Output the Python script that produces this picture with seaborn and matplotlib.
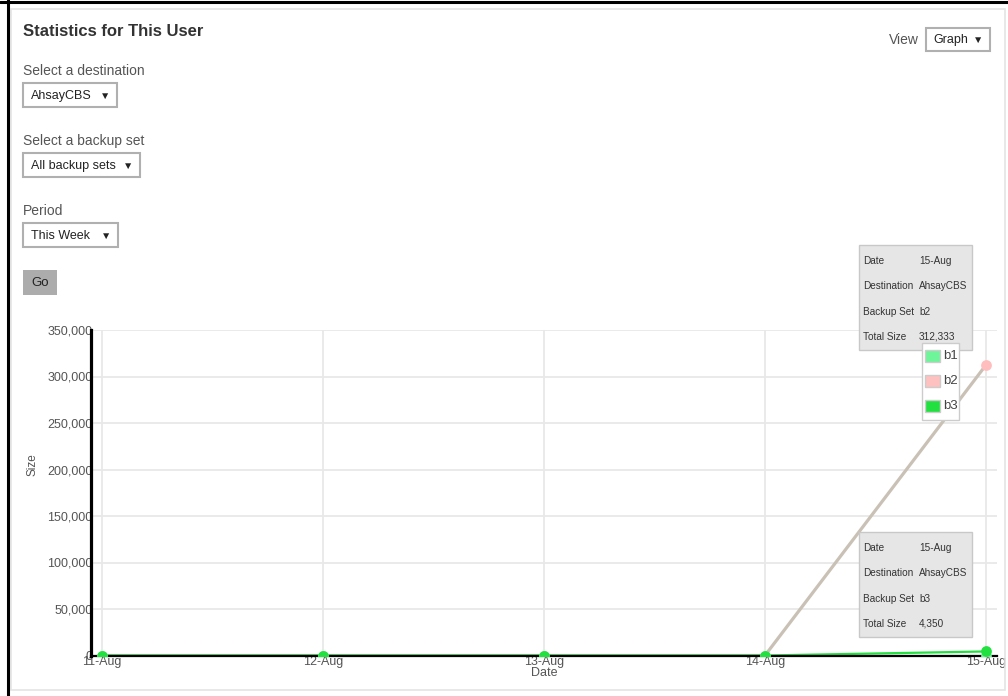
import matplotlib
matplotlib.use("Agg")
import matplotlib.pyplot as plt
from matplotlib.patches import Rectangle
import seaborn as sns
import pandas as pd

# ---------------- data ----------------
dates = ["11-Aug", "12-Aug", "13-Aug", "14-Aug", "15-Aug"]
b1 = [0, 0, 0, 0, 0]
b2 = [0, 0, 0, 0, 312333]
b3 = [0, 0, 0, 0, 4350]
set_names = ["b1", "b2", "b3"]
y_ticks = [0, 50000, 100000, 150000, 200000, 250000, 300000, 350000]
destination = "AhsayCBS"

# styles
swatch_colors = {"b1": "#6ef59a", "b2": "#ffc0c0", "b3": "#22e040"}
line_colors = {"b1": "#6ef59a", "b2": "#c9c1b6", "b3": "#22e040"}
marker_colors = {"b1": "#6ef59a", "b2": "#ffbdbd", "b3": "#22e040"}

sns.set_theme(style="white")
plt.rcParams["font.family"] = ["Liberation Sans", "DejaVu Sans"]

W, H = 1008, 696
fig = plt.figure(figsize=(W / 100, H / 100), dpi=100)
fig.patch.set_facecolor("white")


def fx(x):
    return x / W


def fy(y):
    return 1 - y / H


def rect(x0, y0, x1, y1, fc="none", ec="none", lw=1.0, z=5):
    r = Rectangle((fx(x0), fy(y1)), fx(x1) - fx(x0), fy(y0) - fy(y1),
                  transform=fig.transFigure, facecolor=fc, edgecolor=ec,
                  linewidth=lw, zorder=z)
    fig.add_artist(r)
    return r


def text(x, y, s, size=9, color="#444444", ha="left", va="center", weight="normal", z=6, **kw):
    fig.text(fx(x), fy(y), s, fontsize=size, color=color, ha=ha, va=va,
             fontweight=weight, zorder=z, **kw)


# ---------------- page frame ----------------
rect(11, 9, 1005, 690, fc="none", ec="#e4e4e4", lw=1.2, z=1)
fig.add_artist(plt.Line2D([fx(8), fx(8)], [0, 1], transform=fig.transFigure,
                          color="black", lw=2.2, zorder=10))
fig.add_artist(plt.Line2D([0, 1], [fy(2), fy(2)], transform=fig.transFigure,
                          color="black", lw=2.2, zorder=10))

# ---------------- form controls ----------------
text(23, 31, "Statistics for This User", size=12, color="#333333", weight="bold")
text(23, 71, "Select a destination", size=10, color="#555555")
rect(23, 83, 117, 107, fc="white", ec="#b0b0b0", lw=1.5)
text(31, 96, destination, size=9, color="#222222")
text(105.5, 96, "▼", size=7.5, color="#222222", ha="center")

text(23, 141, "Select a backup set", size=10, color="#555555")
rect(23, 153, 140, 177, fc="white", ec="#b0b0b0", lw=1.5)
text(31, 166, "All backup sets", size=9, color="#222222")
text(128.5, 166, "▼", size=7.5, color="#222222", ha="center")

text(23, 211, "Period", size=10, color="#555555")
rect(23, 223, 118, 247, fc="white", ec="#b0b0b0", lw=1.5)
text(31, 236, "This Week", size=9, color="#222222")
text(106, 236, "▼", size=7.5, color="#222222", ha="center")

rect(23, 270, 57, 295, fc="#acacac", ec="none")
text(40, 283, "Go", size=9.5, color="#222222", ha="center")

text(889, 40, "View", size=10, color="#555555")
rect(926, 28, 990, 51, fc="white", ec="#b0b0b0", lw=1.5)
text(933, 40, "Graph", size=9, color="#222222")
text(978, 40, "▼", size=7.5, color="#222222", ha="center")

# ---------------- chart ----------------
ax_left, ax_right, ax_top, ax_bottom = 91, 997, 330, 655.5
ax = fig.add_axes([fx(ax_left), fy(ax_bottom), fx(ax_right) - fx(ax_left),
                   fy(ax_top) - fy(ax_bottom)])
ax.set_facecolor("white")

rows = []
for name, vals in zip(set_names, [b1, b2, b3]):
    for i, (d, v) in enumerate(zip(dates, vals)):
        rows.append({"pos": i, "date": d, "size": v, "set": name})
df = pd.DataFrame(rows)

draw_order = ["b2", "b1", "b3"]
line_w = {"b2": 2.3, "b1": 1.6, "b3": 1.6}
for z, name in enumerate(draw_order):
    sub = df[df["set"] == name]
    sns.lineplot(data=sub, x="pos", y="size", color=line_colors[name],
                 linewidth=line_w[name], ax=ax, legend=False, zorder=3 + z * 0.1)
for z, name in enumerate(draw_order):
    sub = df[df["set"] == name]
    sns.scatterplot(data=sub, x="pos", y="size", color=marker_colors[name],
                    s=60, linewidth=0, ax=ax, legend=False, zorder=4 + z * 0.1)

ax.set_xlim(-0.05, len(dates) - 1 + 0.05)
ax.set_ylim(0, 350000)
ax.set_xticks(range(len(dates)))
ax.set_xticklabels(dates)
ax.set_yticks(y_ticks)
ax.set_yticklabels([f"{v:,}" for v in y_ticks])
ax.tick_params(axis="both", length=0, labelsize=9, labelcolor="#555555")
ax.tick_params(axis="y", pad=-1)
ax.tick_params(axis="x", pad=0)
ax.grid(True, color="#e8e8e8", linewidth=1.3)
ax.set_axisbelow(True)
for s in ["top", "right"]:
    ax.spines[s].set_visible(False)
ax.spines["left"].set_color("black")
ax.spines["left"].set_linewidth(2.3)
ax.spines["bottom"].set_color("black")
ax.spines["bottom"].set_linewidth(1.6)
ax.spines["left"].set_zorder(6)
ax.spines["bottom"].set_zorder(3.5)

ax.set_xlabel("Date", fontsize=9, color="#555555")
ax.set_ylabel("Size", fontsize=8.5, color="#555555")
ax.xaxis.set_label_coords((544 - ax_left) / (ax_right - ax_left), -0.036)
ax.yaxis.set_label_coords((39 - ax_left) / (ax_right - ax_left), (ax_bottom - 465) / (ax_bottom - ax_top))

# ---------------- tooltips ----------------
def tooltip(y0, set_name, value):
    rect(859, y0, 972, y0 + 105, fc="#e6e6e6", ec="#c8c8c8", lw=1.0, z=7)
    rows_t = [("Date", dates[-1]), ("Destination", destination),
              ("Backup Set", set_name), ("Total Size", f"{value:,}")]
    for k, (lab, val) in enumerate(rows_t):
        yy = y0 + 19 + k * 25.3
        text(863, yy, lab, size=7.2, color="#333333", z=8, va="baseline")
        text(919, yy, val, size=7.2, color="#333333", z=8, va="baseline")


tooltip(245, "b2", b2[-1])
tooltip(532, "b3", b3[-1])

# ---------------- legend ----------------
rect(922, 343, 959, 420, fc="white", ec="#cccccc", lw=1.0, z=7)
for k, name in enumerate(set_names):
    yc = 356 + k * 25
    rect(925, yc - 6, 940, yc + 6, fc=swatch_colors[name], ec="#cccccc", lw=1.0, z=8)
    text(943, yc, name, size=9.5, color="#444444", z=8)

fig.savefig("out.png", dpi=100, facecolor="white")
